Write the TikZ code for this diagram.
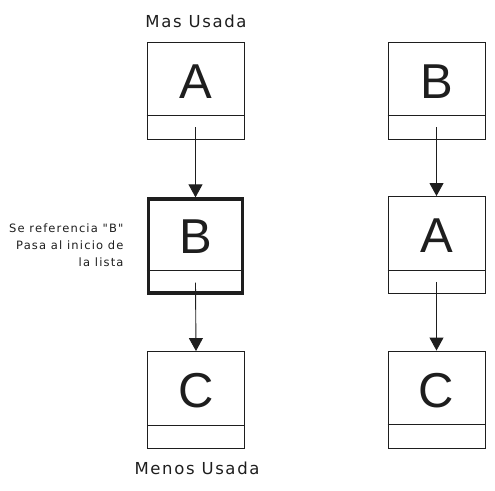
\documentclass[tikz,border=0pt]{standalone}
\usepackage{fontspec}
\setmainfont{Liberation Sans}
\newfontfamily\handfont{DejaVu Sans}[LetterSpace=10]
\usepackage{xcolor}
\definecolor{Ink}{HTML}{1E1E1E}
\usetikzlibrary{positioning,calc,arrows.meta}

\begin{document}
\begin{tikzpicture}[x=1pt,y=-1pt,
 box/.style={rectangle,draw=Ink,line width=0.9pt,minimum width=97pt,minimum height=97pt,inner sep=0pt,
  font=\fontsize{49}{49}\selectfont,text=Ink,text height=35pt,text depth=20pt},
 hot/.style={box,line width=3.3pt,minimum width=94pt,minimum height=94pt},
 ptr/.style={draw=Ink,line width=0.9pt,-{Triangle[length=13pt,width=14pt]}},
 note/.style={font=\handfont\fontsize{16.5}{18}\selectfont,text=Ink},
 aside/.style={font=\handfont\fontsize{11.5}{17}\selectfont,text=Ink,align=right}]
\useasboundingbox (0,0) rectangle (495,490);
% lista antes
\node[box] (lA) at (195.5,90.5) {A};
\node[hot] (lB) at (195.5,246) {B};
\node[box] (lC) at (196,400) {C};
% lista despues
\node[box] (rB) at (436.5,90.5) {B};
\node[box] (rA) at (436.5,245) {A};
\node[box] (rC) at (436.5,399.5) {C};
\foreach \n in {lA,lB,lC,rB,rA,rC}
 \draw[Ink,line width=0.9pt] ([yshift=24pt]\n.south west) -- ([yshift=24pt]\n.south east);
\draw[ptr] ([yshift=12pt]lA.south) -- (lB.north);
\draw[ptr] ([yshift=12pt]lB.south) -- (lC.north);
\draw[ptr] ([yshift=12pt]rB.south) -- (rA.north);
\draw[ptr] ([yshift=12pt]rA.south) -- (rC.north);
\node[note] (most) at (196,21) {Mas Usada};
\node[note] (least) at (197,468) {Menos Usada};
\node[aside,anchor=east] (hit) at (127,245) {Se referencia "B"\\Pasa al inicio de\\la lista};
\end{tikzpicture}
\end{document}
